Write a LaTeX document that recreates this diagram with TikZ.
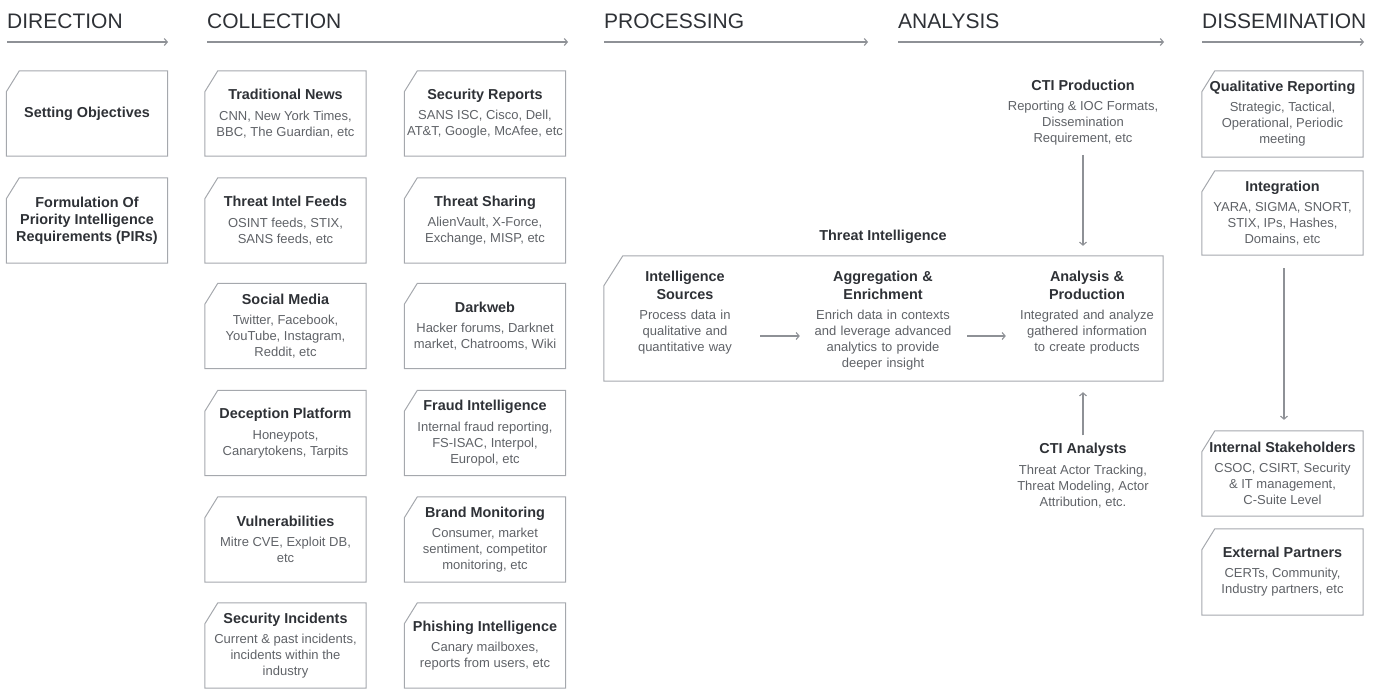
\documentclass[tikz,border=0pt]{standalone}
\usepackage{fontspec}
\setmainfont{Liberation Sans}
\usetikzlibrary{arrows.meta,calc}

\definecolor{ink}{HTML}{2E3136}
\definecolor{soft}{HTML}{5F6267}
\definecolor{edge}{HTML}{A5A8AD}
\definecolor{flowgray}{HTML}{8E9196}

\newcommand\hdfont{\fontsize{21}{25}\selectfont}
\newcommand\ttlfont{\fontsize{14.4}{17}\selectfont\bfseries}
\newcommand\dscfont{\fontsize{13}{16}\selectfont}
\newcommand\ttl[1]{{\color{ink}\ttlfont #1}}

\begin{document}
\begin{tikzpicture}[x=1pt,y=-1pt,
  phase/.style={anchor=base west, inner sep=0pt, font=\hdfont, text=ink},
  flow/.style={draw=flowgray, line width=1.1pt, -{Straight Barb[length=3pt,width=7pt]}},
  card/.style={minimum width=161pt, minimum height=85pt, inner sep=0pt, align=center, font=\dscfont, text=soft},
  note/.style={inner sep=0pt, align=center, font=\dscfont, text=soft},
  stage/.style={anchor=north, inner sep=0pt, text width=150pt, align=center, font=\dscfont, text=soft},
  rim/.style={draw=edge, line width=1pt, line join=miter},
]
\useasboundingbox (0,0) rectangle (1384,689);

% ---------- phase headers ----------
\node[phase] (hdir) at (7,28)    {DIRECTION};
\node[phase] (hcol) at (207,28)  {COLLECTION};
\node[phase] (hpro) at (604,28)  {PROCESSING};
\node[phase] (hana) at (898,28)  {ANALYSIS};
\node[phase] (hdis) at (1202,28) {DISSEMINATION};

\coordinate (a1s) at (7,42);    \coordinate (a1e) at (168,42);
\coordinate (a2s) at (207,42);  \coordinate (a2e) at (568,42);
\coordinate (a3s) at (604,42);  \coordinate (a3e) at (868,42);
\coordinate (a4s) at (898,42);  \coordinate (a4e) at (1164,42);
\coordinate (a5s) at (1202,42); \coordinate (a5e) at (1364,42);
\foreach \s/\e in {a1s/a1e,a2s/a2e,a3s/a3e,a4s/a4e,a5s/a5e}
  \draw[flow] (\s) -- (\e);

% ---------- direction ----------
\node[card] (dobj) at (87,113.5) {\ttl{Setting Objectives}};
\node[card] (dpir) at (87,220.5) {\ttl{Formulation Of}\\[1pt]\ttl{Priority Intelligence}\\[1pt]\ttl{Requirements (PIRs)}};

% ---------- collection, first column ----------
\node[card] (news) at (285.5,113.5) {\ttl{Traditional News}\\[4.5pt]CNN, New York Times,\\BBC, The Guardian, etc};
\node[card] (feeds) at (285.5,220.5) {\ttl{Threat Intel Feeds}\\[4.5pt]OSINT feeds, STIX,\\SANS feeds, etc};
\node[card] (social) at (285.5,326) {\ttl{Social Media}\\[4.5pt]Twitter, Facebook,\\YouTube, Instagram,\\Reddit, etc};
\node[card] (decep) at (285.5,433) {\ttl{Deception Platform}\\[4.5pt]Honeypots,\\Canarytokens, Tarpits};
\node[card] (vuln) at (285.5,539.5) {\ttl{Vulnerabilities}\\[4.5pt]Mitre CVE, Exploit DB,\\etc};
\node[card] (incid) at (285.5,645.5) {\ttl{Security Incidents}\\[4.5pt]Current \& past incidents,\\incidents within the\\industry};

% ---------- collection, second column ----------
\node[card] (srep) at (485,113.5) {\ttl{Security Reports}\\[4.5pt]SANS ISC, Cisco, Dell,\\AT\&T, Google, McAfee, etc};
\node[card] (share) at (485,220.5) {\ttl{Threat Sharing}\\[4.5pt]AlienVault, X-Force,\\Exchange, MISP, etc};
\node[card] (dark) at (485,326) {\ttl{Darkweb}\\[4.5pt]Hacker forums, Darknet\\market, Chatrooms, Wiki};
\node[card] (fraud) at (485,433) {\ttl{Fraud Intelligence}\\[4.5pt]Internal fraud reporting,\\FS-ISAC, Interpol,\\Europol, etc};
\node[card] (brand) at (485,539.5) {\ttl{Brand Monitoring}\\[4.5pt]Consumer, market\\sentiment, competitor\\monitoring, etc};
\node[card] (phish) at (485,645.5) {\ttl{Phishing Intelligence}\\[4.5pt]Canary mailboxes,\\reports from users, etc};

% ---------- dissemination ----------
\node[card, minimum height=86pt] (qual) at (1282.5,114) {\ttl{Qualitative Reporting}\\[4pt]Strategic, Tactical,\\Operational, Periodic\\meeting};
\node[card, minimum height=84pt] (integ) at (1282.5,213) {\ttl{Integration}\\[4pt]YARA, SIGMA, SNORT,\\STIX, IPs, Hashes,\\Domains, etc};
\node[card] (inner) at (1282.5,473.5) {\ttl{Internal Stakeholders}\\[4pt]CSOC, CSIRT, Security\\\& IT management,\\C-Suite Level};
\node[card, minimum height=86pt] (outer) at (1282.5,572) {\ttl{External Partners}\\[4pt]CERTs, Community,\\Industry partners, etc};

% cut-corner outlines of the cards
\foreach \n in {dobj,dpir,news,feeds,social,decep,vuln,incid,srep,share,dark,fraud,brand,phish,qual,integ,inner,outer}
  \draw[rim] ([xshift=13pt]\n.north west) -- (\n.north east) -- (\n.south east)
    -- (\n.south west) -- ([yshift=-21pt]\n.north west) -- cycle;

% ---------- threat intelligence pipeline ----------
\node[inner sep=0pt, minimum width=559pt, minimum height=125pt] (tibox) at (883.5,318.5) {};
\draw[rim] ([xshift=19pt]tibox.north west) -- (tibox.north east) -- (tibox.south east)
  -- (tibox.south west) -- ([yshift=-30pt]tibox.north west) -- cycle;
\node[inner sep=0pt, font=\ttlfont, text=ink] (tilabel) at (883,237) {Threat Intelligence};

\node[stage] (isrc) at (685,271) {\ttl{Intelligence}\\[2pt]\ttl{Sources}\\[4pt]Process data in\\qualitative and\\quantitative way};
\node[stage] (agg) at (883,271) {\ttl{Aggregation \&}\\[2pt]\ttl{Enrichment}\\[4pt]Enrich data in contexts\\and leverage advanced\\analytics to provide\\deeper insight};
\node[stage] (anp) at (1087,271) {\ttl{Analysis \&}\\[2pt]\ttl{Production}\\[4pt]Integrated and analyze\\gathered information\\to create products};

\coordinate (ay) at (0,336);
\draw[flow] (isrc.east |- ay) -- ([xshift=-8pt]agg.west |- ay);
\draw[flow] ([xshift=9pt]agg.east |- ay) -- ([xshift=-6pt]anp.west |- ay);

% ---------- inputs to analysis ----------
\node[note] (ctip) at (1083,113) {\ttl{CTI Production}\\[4pt]Reporting \& IOC Formats,\\Dissemination\\Requirement, etc};
\node[note] (ctia) at (1083,476) {\ttl{CTI Analysts}\\[5pt]Threat Actor Tracking,\\Threat Modeling, Actor\\Attribution, etc.};

\draw[flow, shorten <=9pt, shorten >=10pt] (ctip.south) -- (ctip.south |- tibox.north);
\draw[flow, shorten <=8pt, shorten >=11pt] (ctia.north) -- (ctia.north |- tibox.south);

% ---------- dissemination flow ----------
\draw[flow, shorten <=13pt, shorten >=11pt] ([xshift=1.5pt]integ.south) -- ([xshift=1.5pt]inner.north);
\end{tikzpicture}
\end{document}
